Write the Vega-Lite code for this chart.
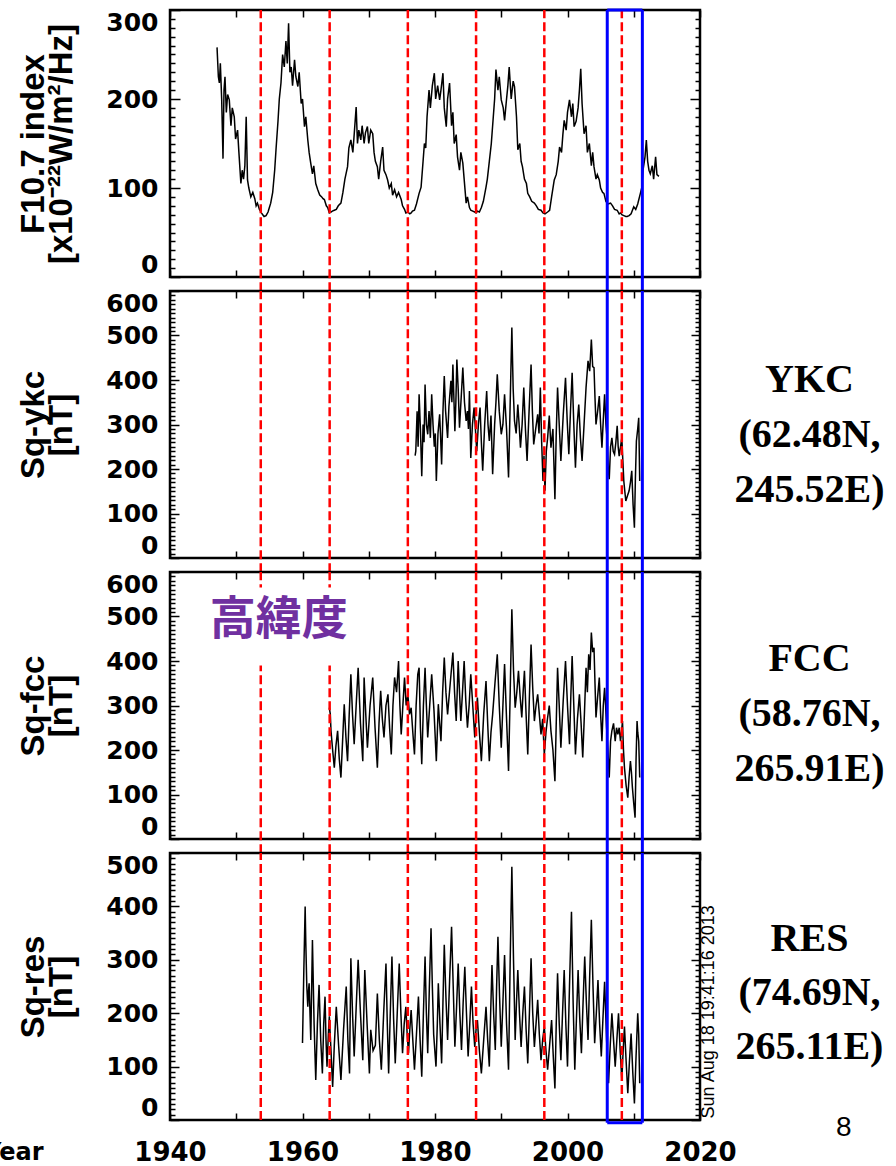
{
  "$schema": "https://vega.github.io/schema/vega-lite/v6.json",
  "background": "white",
  "padding": {"left": -18, "top": 5, "right": 0, "bottom": 0},
  "bounds": "flush",
  "spacing": 14,
  "config": {
    "view": {"stroke": "black", "strokeWidth": 2.5},
    "font": "Liberation Sans",
    "axis": {
      "domain": false, "grid": false, "tickColor": "black", "tickWidth": 1.5,
      "labelColor": "black", "titleColor": "black", "labelFontWeight": "bold", "titleFontWeight": "bold",
      "labelFont": "DejaVu Sans", "titleFont": "Liberation Sans", "labelFontSize": 25, "titleFontSize": 33
    }
  },
  "datasets": {
    "minima": [{"t": 1953.7}, {"t": 1964.1}, {"t": 1975.9}, {"t": 1986.2}, {"t": 1996.5}, {"t": 2008.2}],
    "box": [{"t": 2006.0}, {"t": 2011.3}],
    "f107": [
      {"t":1947.1,"v":258},{"t":1947.3,"v":225},{"t":1947.45,"v":218},{"t":1947.6,"v":240},{"t":1947.8,"v":200},{"t":1948.0,"v":133},{"t":1948.15,"v":210},{"t":1948.3,"v":225},{"t":1948.5,"v":185},{"t":1948.7,"v":205},{"t":1948.95,"v":199},{"t":1949.2,"v":170},{"t":1949.4,"v":190},{"t":1949.7,"v":180},{"t":1949.9,"v":155},{"t":1950.2,"v":165},{"t":1950.4,"v":140},{"t":1950.7,"v":105},{"t":1950.9,"v":120},{"t":1951.1,"v":110},{"t":1951.3,"v":125},{"t":1951.5,"v":180},{"t":1951.7,"v":109},{"t":1951.9,"v":100},{"t":1952.2,"v":90},{"t":1952.5,"v":95},{"t":1952.8,"v":88},{"t":1953.0,"v":80},{"t":1953.2,"v":83},{"t":1953.5,"v":76},{"t":1953.8,"v":72},{"t":1954.0,"v":70},{"t":1954.2,"v":68},{"t":1954.5,"v":69},{"t":1954.8,"v":73},{"t":1955.0,"v":78},{"t":1955.2,"v":83},{"t":1955.5,"v":95},{"t":1955.8,"v":120},{"t":1956.0,"v":143},{"t":1956.3,"v":175},{"t":1956.5,"v":200},{"t":1956.75,"v":218},{"t":1957.0,"v":250},{"t":1957.25,"v":236},{"t":1957.5,"v":265},{"t":1957.7,"v":240},{"t":1957.9,"v":285},{"t":1958.1,"v":230},{"t":1958.3,"v":236},{"t":1958.5,"v":215},{"t":1958.8,"v":244},{"t":1959.0,"v":225},{"t":1959.3,"v":214},{"t":1959.5,"v":230},{"t":1959.8,"v":195},{"t":1960.0,"v":200},{"t":1960.3,"v":169},{"t":1960.5,"v":180},{"t":1960.8,"v":154},{"t":1961.0,"v":140},{"t":1961.2,"v":130},{"t":1961.5,"v":116},{"t":1961.7,"v":125},{"t":1962.0,"v":105},{"t":1962.3,"v":98},{"t":1962.6,"v":92},{"t":1962.9,"v":90},{"t":1963.1,"v":88},{"t":1963.3,"v":87},{"t":1963.6,"v":80},{"t":1963.8,"v":78},{"t":1964.05,"v":72},{"t":1964.3,"v":73},{"t":1964.5,"v":74},{"t":1964.8,"v":75},{"t":1965.1,"v":76},{"t":1965.4,"v":80},{"t":1965.8,"v":83},{"t":1966.1,"v":95},{"t":1966.4,"v":110},{"t":1966.8,"v":124},{"t":1967.0,"v":145},{"t":1967.3,"v":154},{"t":1967.6,"v":140},{"t":1967.8,"v":160},{"t":1968.1,"v":191},{"t":1968.3,"v":150},{"t":1968.5,"v":165},{"t":1968.8,"v":154},{"t":1969.0,"v":170},{"t":1969.3,"v":150},{"t":1969.5,"v":162},{"t":1969.8,"v":169},{"t":1970.0,"v":150},{"t":1970.3,"v":165},{"t":1970.6,"v":161},{"t":1970.8,"v":140},{"t":1971.0,"v":130},{"t":1971.3,"v":124},{"t":1971.5,"v":110},{"t":1971.8,"v":130},{"t":1972.1,"v":146},{"t":1972.3,"v":120},{"t":1972.6,"v":115},{"t":1972.85,"v":109},{"t":1973.1,"v":100},{"t":1973.4,"v":105},{"t":1973.6,"v":92},{"t":1973.9,"v":98},{"t":1974.2,"v":90},{"t":1974.5,"v":95},{"t":1974.9,"v":87},{"t":1975.1,"v":80},{"t":1975.4,"v":76},{"t":1975.6,"v":72},{"t":1975.9,"v":73},{"t":1976.2,"v":71},{"t":1976.4,"v":72},{"t":1976.6,"v":74},{"t":1976.9,"v":75},{"t":1977.2,"v":82},{"t":1977.6,"v":94},{"t":1977.9,"v":101},{"t":1978.2,"v":130},{"t":1978.4,"v":150},{"t":1978.6,"v":145},{"t":1978.8,"v":180},{"t":1979.1,"v":210},{"t":1979.3,"v":190},{"t":1979.6,"v":215},{"t":1979.9,"v":229},{"t":1980.1,"v":200},{"t":1980.4,"v":215},{"t":1980.7,"v":199},{"t":1980.9,"v":210},{"t":1981.2,"v":229},{"t":1981.4,"v":190},{"t":1981.7,"v":169},{"t":1981.9,"v":200},{"t":1982.2,"v":218},{"t":1982.5,"v":170},{"t":1982.7,"v":185},{"t":1982.9,"v":150},{"t":1983.2,"v":160},{"t":1983.4,"v":135},{"t":1983.7,"v":120},{"t":1983.9,"v":140},{"t":1984.2,"v":128},{"t":1984.4,"v":110},{"t":1984.7,"v":83},{"t":1984.9,"v":90},{"t":1985.2,"v":78},{"t":1985.4,"v":75},{"t":1985.7,"v":74},{"t":1986.0,"v":73},{"t":1986.2,"v":72},{"t":1986.4,"v":74},{"t":1986.7,"v":73},{"t":1987.0,"v":78},{"t":1987.3,"v":85},{"t":1987.7,"v":101},{"t":1987.9,"v":110},{"t":1988.2,"v":130},{"t":1988.5,"v":150},{"t":1988.8,"v":180},{"t":1989.0,"v":200},{"t":1989.2,"v":233},{"t":1989.5,"v":210},{"t":1989.7,"v":225},{"t":1990.0,"v":199},{"t":1990.3,"v":190},{"t":1990.5,"v":176},{"t":1990.8,"v":200},{"t":1991.0,"v":215},{"t":1991.2,"v":236},{"t":1991.5,"v":200},{"t":1991.8,"v":220},{"t":1992.0,"v":214},{"t":1992.3,"v":180},{"t":1992.5,"v":143},{"t":1992.8,"v":150},{"t":1993.0,"v":130},{"t":1993.2,"v":124},{"t":1993.5,"v":110},{"t":1993.8,"v":105},{"t":1994.0,"v":94},{"t":1994.3,"v":90},{"t":1994.6,"v":85},{"t":1995.0,"v":83},{"t":1995.3,"v":80},{"t":1995.6,"v":76},{"t":1996.0,"v":75},{"t":1996.3,"v":72},{"t":1996.6,"v":71},{"t":1997.0,"v":73},{"t":1997.3,"v":75},{"t":1997.6,"v":90},{"t":1998.0,"v":109},{"t":1998.3,"v":115},{"t":1998.6,"v":130},{"t":1998.8,"v":146},{"t":1999.1,"v":140},{"t":1999.3,"v":160},{"t":1999.5,"v":176},{"t":1999.8,"v":165},{"t":2000.0,"v":185},{"t":2000.3,"v":199},{"t":2000.6,"v":180},{"t":2000.8,"v":195},{"t":2001.0,"v":169},{"t":2001.3,"v":175},{"t":2001.6,"v":190},{"t":2001.8,"v":210},{"t":2002.0,"v":234},{"t":2002.2,"v":195},{"t":2002.5,"v":161},{"t":2002.8,"v":170},{"t":2003.0,"v":140},{"t":2003.3,"v":150},{"t":2003.6,"v":125},{"t":2003.8,"v":140},{"t":2004.0,"v":124},{"t":2004.3,"v":110},{"t":2004.5,"v":115},{"t":2004.8,"v":109},{"t":2005.0,"v":100},{"t":2005.3,"v":95},{"t":2005.5,"v":94},{"t":2005.8,"v":85},{"t":2006.1,"v":82},{"t":2006.5,"v":83},{"t":2006.8,"v":80},{"t":2007.1,"v":76},{"t":2007.5,"v":75},{"t":2007.8,"v":71},{"t":2008.0,"v":72},{"t":2008.2,"v":70},{"t":2008.5,"v":69},{"t":2008.8,"v":68},{"t":2009.0,"v":68},{"t":2009.3,"v":69},{"t":2009.6,"v":71},{"t":2010.0,"v":79},{"t":2010.3,"v":76},{"t":2010.6,"v":82},{"t":2011.0,"v":94},{"t":2011.2,"v":100},{"t":2011.4,"v":120},{"t":2011.7,"v":135},{"t":2011.9,"v":154},{"t":2012.1,"v":130},{"t":2012.3,"v":120},{"t":2012.5,"v":116},{"t":2012.8,"v":125},{"t":2013.0,"v":110},{"t":2013.3,"v":135},{"t":2013.5,"v":115},{"t":2013.8,"v":113}
    ],
    "ykc": [
      {"t":1977.0,"v":230},{"t":1977.1,"v":240},{"t":1977.3,"v":330},{"t":1977.45,"v":250},{"t":1977.6,"v":368},{"t":1977.8,"v":290},{"t":1978.0,"v":184},{"t":1978.2,"v":300},{"t":1978.35,"v":260},{"t":1978.5,"v":390},{"t":1978.7,"v":300},{"t":1978.9,"v":278},{"t":1979.1,"v":330},{"t":1979.3,"v":270},{"t":1979.5,"v":368},{"t":1979.7,"v":300},{"t":1979.9,"v":250},{"t":1980.05,"v":280},{"t":1980.2,"v":173},{"t":1980.45,"v":280},{"t":1980.7,"v":323},{"t":1980.85,"v":270},{"t":1981.0,"v":210},{"t":1981.2,"v":330},{"t":1981.4,"v":409},{"t":1981.6,"v":330},{"t":1981.9,"v":270},{"t":1982.1,"v":340},{"t":1982.4,"v":398},{"t":1982.55,"v":350},{"t":1982.7,"v":435},{"t":1982.85,"v":360},{"t":1983.0,"v":285},{"t":1983.15,"v":350},{"t":1983.3,"v":446},{"t":1983.5,"v":380},{"t":1983.7,"v":293},{"t":1983.95,"v":360},{"t":1984.2,"v":428},{"t":1984.45,"v":350},{"t":1984.7,"v":308},{"t":1984.9,"v":330},{"t":1985.05,"v":290},{"t":1985.2,"v":375},{"t":1985.4,"v":225},{"t":1985.65,"v":300},{"t":1985.9,"v":338},{"t":1986.1,"v":290},{"t":1986.3,"v":240},{"t":1986.55,"v":300},{"t":1986.8,"v":338},{"t":1987.0,"v":260},{"t":1987.2,"v":196},{"t":1987.5,"v":300},{"t":1987.8,"v":375},{"t":1988.0,"v":300},{"t":1988.2,"v":263},{"t":1988.45,"v":320},{"t":1988.7,"v":188},{"t":1989.0,"v":300},{"t":1989.2,"v":350},{"t":1989.4,"v":413},{"t":1989.7,"v":330},{"t":1990.0,"v":278},{"t":1990.25,"v":300},{"t":1990.5,"v":368},{"t":1990.8,"v":290},{"t":1991.1,"v":181},{"t":1991.35,"v":350},{"t":1991.6,"v":518},{"t":1991.8,"v":380},{"t":1992.0,"v":308},{"t":1992.25,"v":280},{"t":1992.5,"v":345},{"t":1992.7,"v":300},{"t":1992.9,"v":248},{"t":1993.15,"v":300},{"t":1993.4,"v":383},{"t":1993.65,"v":290},{"t":1993.9,"v":218},{"t":1994.2,"v":330},{"t":1994.5,"v":435},{"t":1994.7,"v":330},{"t":1994.9,"v":255},{"t":1995.2,"v":290},{"t":1995.5,"v":323},{"t":1995.7,"v":280},{"t":1995.9,"v":383},{"t":1996.1,"v":260},{"t":1996.3,"v":173},{"t":1996.45,"v":230},{"t":1996.6,"v":151},{"t":1996.8,"v":240},{"t":1997.0,"v":270},{"t":1997.25,"v":320},{"t":1997.5,"v":248},{"t":1997.8,"v":290},{"t":1998.1,"v":132},{"t":1998.3,"v":280},{"t":1998.5,"v":383},{"t":1998.75,"v":300},{"t":1999.0,"v":218},{"t":1999.35,"v":320},{"t":1999.7,"v":405},{"t":1999.95,"v":310},{"t":2000.2,"v":233},{"t":2000.45,"v":330},{"t":2000.7,"v":416},{"t":2000.95,"v":300},{"t":2001.2,"v":203},{"t":2001.45,"v":300},{"t":2001.7,"v":345},{"t":2001.95,"v":270},{"t":2002.2,"v":218},{"t":2002.5,"v":300},{"t":2002.8,"v":383},{"t":2003.1,"v":443},{"t":2003.35,"v":420},{"t":2003.6,"v":491},{"t":2003.8,"v":430},{"t":2004.0,"v":428},{"t":2004.15,"v":360},{"t":2004.3,"v":300},{"t":2004.55,"v":330},{"t":2004.8,"v":364},{"t":2005.0,"v":300},{"t":2005.2,"v":248},{"t":2005.4,"v":310},{"t":2005.6,"v":368},{"t":2005.8,"v":300},{"t":2006.0,"v":263},{"t":2006.15,"v":200},{"t":2006.3,"v":177},{"t":2006.5,"v":250},{"t":2006.7,"v":270},{"t":2006.9,"v":240},{"t":2007.1,"v":233},{"t":2007.3,"v":260},{"t":2007.5,"v":297},{"t":2007.65,"v":250},{"t":2007.8,"v":229},{"t":2008.0,"v":250},{"t":2008.2,"v":270},{"t":2008.35,"v":220},{"t":2008.5,"v":173},{"t":2008.65,"v":150},{"t":2008.8,"v":128},{"t":2009.05,"v":140},{"t":2009.3,"v":151},{"t":2009.5,"v":170},{"t":2009.7,"v":196},{"t":2009.9,"v":120},{"t":2010.1,"v":68},{"t":2010.25,"v":180},{"t":2010.4,"v":263},{"t":2010.6,"v":290},{"t":2010.75,"v":315},{"t":2010.9,"v":173}
    ],
    "fcc": [
      {"t":1964.05,"v":295},{"t":1964.2,"v":280},{"t":1964.3,"v":243},{"t":1964.55,"v":200},{"t":1964.8,"v":160},{"t":1965.05,"v":210},{"t":1965.3,"v":243},{"t":1965.55,"v":180},{"t":1965.8,"v":138},{"t":1966.05,"v":220},{"t":1966.3,"v":303},{"t":1966.55,"v":230},{"t":1966.8,"v":175},{"t":1967.05,"v":280},{"t":1967.3,"v":370},{"t":1967.55,"v":280},{"t":1967.8,"v":213},{"t":1968.1,"v":300},{"t":1968.4,"v":385},{"t":1968.75,"v":260},{"t":1969.1,"v":175},{"t":1969.3,"v":363},{"t":1969.55,"v":280},{"t":1969.8,"v":205},{"t":1970.2,"v":300},{"t":1970.6,"v":363},{"t":1970.95,"v":250},{"t":1971.3,"v":160},{"t":1971.55,"v":260},{"t":1971.8,"v":333},{"t":1972.05,"v":270},{"t":1972.3,"v":228},{"t":1972.6,"v":300},{"t":1972.9,"v":325},{"t":1973.15,"v":250},{"t":1973.4,"v":190},{"t":1973.65,"v":300},{"t":1973.9,"v":363},{"t":1974.2,"v":330},{"t":1974.5,"v":400},{"t":1974.7,"v":300},{"t":1974.9,"v":235},{"t":1975.15,"v":300},{"t":1975.4,"v":363},{"t":1975.65,"v":300},{"t":1975.9,"v":325},{"t":1976.15,"v":280},{"t":1976.4,"v":295},{"t":1976.65,"v":240},{"t":1976.9,"v":190},{"t":1977.15,"v":300},{"t":1977.4,"v":370},{"t":1977.6,"v":385},{"t":1977.8,"v":250},{"t":1978.0,"v":168},{"t":1978.25,"v":300},{"t":1978.5,"v":385},{"t":1978.7,"v":300},{"t":1978.9,"v":228},{"t":1979.2,"v":300},{"t":1979.5,"v":370},{"t":1979.85,"v":288},{"t":1980.2,"v":175},{"t":1980.5,"v":303},{"t":1980.7,"v":260},{"t":1980.9,"v":220},{"t":1981.15,"v":330},{"t":1981.4,"v":408},{"t":1981.65,"v":330},{"t":1981.9,"v":280},{"t":1982.3,"v":350},{"t":1982.7,"v":419},{"t":1982.95,"v":330},{"t":1983.2,"v":265},{"t":1983.35,"v":330},{"t":1983.5,"v":400},{"t":1983.7,"v":330},{"t":1983.9,"v":265},{"t":1984.15,"v":330},{"t":1984.4,"v":400},{"t":1984.65,"v":310},{"t":1984.9,"v":250},{"t":1985.15,"v":300},{"t":1985.4,"v":370},{"t":1985.7,"v":300},{"t":1986.0,"v":228},{"t":1986.2,"v":280},{"t":1986.4,"v":318},{"t":1986.7,"v":240},{"t":1987.0,"v":175},{"t":1987.35,"v":280},{"t":1987.7,"v":355},{"t":1987.95,"v":260},{"t":1988.2,"v":175},{"t":1988.45,"v":240},{"t":1988.7,"v":280},{"t":1989.05,"v":350},{"t":1989.4,"v":415},{"t":1989.7,"v":300},{"t":1990.0,"v":205},{"t":1990.25,"v":300},{"t":1990.5,"v":393},{"t":1990.8,"v":270},{"t":1991.1,"v":153},{"t":1991.35,"v":330},{"t":1991.6,"v":516},{"t":1991.85,"v":380},{"t":1992.1,"v":295},{"t":1992.35,"v":330},{"t":1992.6,"v":378},{"t":1992.85,"v":320},{"t":1993.1,"v":273},{"t":1993.3,"v":330},{"t":1993.5,"v":378},{"t":1993.75,"v":280},{"t":1994.0,"v":190},{"t":1994.25,"v":320},{"t":1994.5,"v":437},{"t":1994.75,"v":340},{"t":1995.0,"v":265},{"t":1995.25,"v":300},{"t":1995.5,"v":325},{"t":1995.75,"v":280},{"t":1996.0,"v":235},{"t":1996.25,"v":270},{"t":1996.5,"v":190},{"t":1996.75,"v":240},{"t":1997.0,"v":273},{"t":1997.25,"v":300},{"t":1997.5,"v":243},{"t":1997.8,"v":200},{"t":1998.1,"v":130},{"t":1998.3,"v":260},{"t":1998.5,"v":385},{"t":1998.75,"v":300},{"t":1999.0,"v":205},{"t":1999.35,"v":310},{"t":1999.7,"v":400},{"t":2000.0,"v":300},{"t":2000.3,"v":213},{"t":2000.5,"v":320},{"t":2000.7,"v":411},{"t":2000.95,"v":300},{"t":2001.2,"v":190},{"t":2001.5,"v":270},{"t":2001.8,"v":325},{"t":2002.05,"v":260},{"t":2002.3,"v":183},{"t":2002.55,"v":280},{"t":2002.8,"v":385},{"t":2003.0,"v":330},{"t":2003.2,"v":415},{"t":2003.4,"v":380},{"t":2003.6,"v":464},{"t":2003.8,"v":420},{"t":2004.0,"v":430},{"t":2004.15,"v":350},{"t":2004.3,"v":273},{"t":2004.55,"v":320},{"t":2004.8,"v":363},{"t":2005.0,"v":280},{"t":2005.2,"v":220},{"t":2005.4,"v":300},{"t":2005.6,"v":340},{"t":2005.75,"v":300},{"t":2005.9,"v":250},{"t":2006.1,"v":200},{"t":2006.3,"v":138},{"t":2006.5,"v":220},{"t":2006.7,"v":243},{"t":2006.95,"v":260},{"t":2007.2,"v":220},{"t":2007.4,"v":250},{"t":2007.6,"v":235},{"t":2007.8,"v":250},{"t":2008.0,"v":220},{"t":2008.15,"v":240},{"t":2008.3,"v":265},{"t":2008.45,"v":200},{"t":2008.6,"v":160},{"t":2008.85,"v":120},{"t":2009.1,"v":93},{"t":2009.3,"v":140},{"t":2009.5,"v":175},{"t":2009.65,"v":150},{"t":2009.8,"v":115},{"t":2010.0,"v":80},{"t":2010.2,"v":48},{"t":2010.35,"v":180},{"t":2010.5,"v":265},{"t":2010.6,"v":240},{"t":2010.75,"v":220},{"t":2010.9,"v":138}
    ],
    "res": [
      {"t":1960.0,"v":144},{"t":1960.2,"v":280},{"t":1960.4,"v":400},{"t":1960.5,"v":331},{"t":1960.65,"v":250},{"t":1960.8,"v":212},{"t":1960.9,"v":240},{"t":1961.0,"v":256},{"t":1961.25,"v":150},{"t":1961.5,"v":337},{"t":1961.75,"v":180},{"t":1962.0,"v":75},{"t":1962.25,"v":180},{"t":1962.5,"v":253},{"t":1962.75,"v":150},{"t":1963.0,"v":87},{"t":1963.2,"v":180},{"t":1963.4,"v":231},{"t":1963.55,"v":150},{"t":1963.7,"v":100},{"t":1963.9,"v":160},{"t":1964.05,"v":194},{"t":1964.3,"v":130},{"t":1964.55,"v":62},{"t":1964.8,"v":140},{"t":1965.1,"v":212},{"t":1965.45,"v":140},{"t":1965.8,"v":75},{"t":1966.2,"v":170},{"t":1966.6,"v":250},{"t":1966.85,"v":150},{"t":1967.1,"v":87},{"t":1967.3,"v":303},{"t":1967.55,"v":200},{"t":1967.8,"v":119},{"t":1968.1,"v":210},{"t":1968.4,"v":300},{"t":1968.75,"v":200},{"t":1969.1,"v":112},{"t":1969.4,"v":281},{"t":1969.75,"v":180},{"t":1970.1,"v":87},{"t":1970.3,"v":169},{"t":1970.65,"v":130},{"t":1971.0,"v":140},{"t":1971.3,"v":237},{"t":1971.6,"v":150},{"t":1971.9,"v":94},{"t":1972.25,"v":200},{"t":1972.6,"v":293},{"t":1972.8,"v":180},{"t":1973.0,"v":87},{"t":1973.25,"v":200},{"t":1973.5,"v":306},{"t":1973.75,"v":190},{"t":1974.0,"v":106},{"t":1974.3,"v":200},{"t":1974.6,"v":293},{"t":1974.85,"v":200},{"t":1975.1,"v":125},{"t":1975.35,"v":180},{"t":1975.6,"v":212},{"t":1975.8,"v":160},{"t":1976.0,"v":125},{"t":1976.2,"v":170},{"t":1976.4,"v":206},{"t":1976.65,"v":150},{"t":1976.9,"v":94},{"t":1977.2,"v":160},{"t":1977.5,"v":231},{"t":1977.75,"v":150},{"t":1978.0,"v":81},{"t":1978.25,"v":200},{"t":1978.5,"v":306},{"t":1978.7,"v":200},{"t":1978.9,"v":125},{"t":1979.15,"v":250},{"t":1979.4,"v":359},{"t":1979.6,"v":250},{"t":1979.8,"v":160},{"t":1980.15,"v":100},{"t":1980.35,"v":180},{"t":1980.5,"v":256},{"t":1980.75,"v":180},{"t":1981.0,"v":106},{"t":1981.2,"v":220},{"t":1981.4,"v":328},{"t":1981.65,"v":230},{"t":1981.9,"v":150},{"t":1982.2,"v":260},{"t":1982.5,"v":362},{"t":1982.75,"v":250},{"t":1983.0,"v":137},{"t":1983.25,"v":210},{"t":1983.5,"v":293},{"t":1983.75,"v":200},{"t":1984.0,"v":131},{"t":1984.25,"v":220},{"t":1984.5,"v":287},{"t":1984.75,"v":200},{"t":1985.0,"v":119},{"t":1985.25,"v":180},{"t":1985.5,"v":250},{"t":1985.75,"v":180},{"t":1986.0,"v":137},{"t":1986.2,"v":170},{"t":1986.4,"v":187},{"t":1986.7,"v":130},{"t":1987.0,"v":87},{"t":1987.35,"v":150},{"t":1987.7,"v":212},{"t":1987.95,"v":150},{"t":1988.2,"v":100},{"t":1988.4,"v":200},{"t":1988.6,"v":290},{"t":1988.85,"v":200},{"t":1989.1,"v":131},{"t":1989.3,"v":250},{"t":1989.5,"v":343},{"t":1989.75,"v":230},{"t":1990.0,"v":137},{"t":1990.25,"v":220},{"t":1990.5,"v":309},{"t":1990.8,"v":180},{"t":1991.1,"v":94},{"t":1991.35,"v":300},{"t":1991.6,"v":474},{"t":1991.85,"v":300},{"t":1992.1,"v":150},{"t":1992.3,"v":220},{"t":1992.5,"v":281},{"t":1992.75,"v":200},{"t":1993.0,"v":137},{"t":1993.25,"v":200},{"t":1993.5,"v":250},{"t":1993.75,"v":170},{"t":1994.0,"v":106},{"t":1994.25,"v":200},{"t":1994.5,"v":303},{"t":1994.75,"v":200},{"t":1995.0,"v":137},{"t":1995.25,"v":180},{"t":1995.5,"v":225},{"t":1995.75,"v":160},{"t":1996.0,"v":112},{"t":1996.25,"v":150},{"t":1996.5,"v":175},{"t":1996.75,"v":130},{"t":1997.0,"v":94},{"t":1997.3,"v":140},{"t":1997.6,"v":187},{"t":1997.85,"v":120},{"t":1998.1,"v":59},{"t":1998.3,"v":180},{"t":1998.5,"v":275},{"t":1998.75,"v":180},{"t":1999.0,"v":112},{"t":1999.25,"v":200},{"t":1999.5,"v":281},{"t":1999.75,"v":180},{"t":2000.0,"v":100},{"t":2000.3,"v":250},{"t":2000.6,"v":390},{"t":2000.85,"v":220},{"t":2001.1,"v":94},{"t":2001.35,"v":190},{"t":2001.6,"v":281},{"t":2001.85,"v":190},{"t":2002.1,"v":125},{"t":2002.35,"v":220},{"t":2002.6,"v":306},{"t":2002.85,"v":220},{"t":2003.1,"v":150},{"t":2003.35,"v":270},{"t":2003.6,"v":375},{"t":2003.85,"v":250},{"t":2004.1,"v":144},{"t":2004.35,"v":200},{"t":2004.6,"v":262},{"t":2004.85,"v":180},{"t":2005.1,"v":119},{"t":2005.35,"v":190},{"t":2005.6,"v":259},{"t":2005.9,"v":150},{"t":2006.2,"v":69},{"t":2006.45,"v":140},{"t":2006.7,"v":200},{"t":2006.95,"v":150},{"t":2007.2,"v":100},{"t":2007.45,"v":150},{"t":2007.7,"v":200},{"t":2007.95,"v":130},{"t":2008.2,"v":75},{"t":2008.4,"v":130},{"t":2008.6,"v":175},{"t":2008.85,"v":110},{"t":2009.1,"v":50},{"t":2009.35,"v":110},{"t":2009.6,"v":162},{"t":2009.85,"v":90},{"t":2010.1,"v":31},{"t":2010.35,"v":120},{"t":2010.6,"v":200},{"t":2010.75,"v":160},{"t":2010.9,"v":69}
    ]
  },
  "vconcat": [
    {
      "width": 530, "height": 267,
      "resolve": {"axis": {"x": "independent", "y": "independent"}},
      "layer": [
        {
          "data": {"name": "f107"},
          "mark": {"type": "line", "color": "black", "strokeWidth": 1.5},
          "encoding": {
            "x": {"field": "t", "type": "quantitative", "scale": {"domain": [1940, 2020], "nice": false, "zero": false},
                  "axis": {"orient": "bottom", "values": [1940,1950,1960,1970,1980,1990,2000,2010,2020], "tickSize": -7, "labels": false, "title": null}},
            "y": {"field": "v", "type": "quantitative", "scale": {"domain": [0, 300], "nice": false, "zero": false},
                  "axis": {"orient": "left", "tickCount": 30, "tickSize": {"condition": {"test": "datum.value % 100 === 0", "value": -10}, "value": -5},
                           "labelExpr": "datum.value % 100 === 0 ? datum.label : ''", "labelFlush": true, "labelOverlap": false, "labelPadding": 22,
                           "title": ["F10.7 index", "[x10⁻²²W/m²/Hz]"], "titleLineHeight": 28, "titlePadding": 27}}
          }
        },
        {
          "data": {"name": "minima"},
          "mark": {"type": "rule", "color": "#ff0000", "strokeWidth": 2.5, "strokeDash": [9, 4]},
          "encoding": {
            "x": {"field": "t", "type": "quantitative", "scale": {"domain": [1940, 2020], "nice": false, "zero": false},
                  "axis": {"orient": "top", "values": [1940,1950,1960,1970,1980,1990,2000,2010,2020], "tickSize": -7, "labels": false, "title": null}},
            "y": {"datum": -16, "type": "quantitative", "scale": {"domain": [0, 300], "nice": false, "zero": false},
                  "axis": {"orient": "right", "tickCount": 30, "tickSize": {"condition": {"test": "datum.value % 100 === 0", "value": -10}, "value": -5}, "labels": false, "title": null}},
            "y2": {"datum": 300}
          }
        },
        {
          "data": {"name": "box"},
          "mark": {"type": "rule", "color": "#0000ff", "strokeWidth": 3},
          "encoding": {
            "x": {"field": "t", "type": "quantitative", "scale": {"domain": [1940, 2020], "nice": false, "zero": false}, "axis": null},
            "y": {"datum": -16, "type": "quantitative", "scale": {"domain": [0, 300], "nice": false, "zero": false}, "axis": null},
            "y2": {"datum": 300}
          }
        },
        {
          "data": {"values": [{}]},
          "mark": {"type": "rule", "color": "#0000ff", "strokeWidth": 3},
          "encoding": {
            "x": {"datum": 2006.0, "type": "quantitative", "scale": {"domain": [1940, 2020], "nice": false, "zero": false}, "axis": null},
            "x2": {"datum": 2011.3},
            "y": {"datum": 300, "type": "quantitative", "scale": {"domain": [0, 300], "nice": false, "zero": false}, "axis": null}
          }
        }
      ]
    },
    {
      "width": 530, "height": 267,
      "resolve": {"axis": {"x": "independent", "y": "independent"}},
      "layer": [
        {
          "data": {"name": "ykc"},
          "mark": {"type": "line", "color": "black", "strokeWidth": 1.5},
          "encoding": {
            "x": {"field": "t", "type": "quantitative", "scale": {"domain": [1940, 2020], "nice": false, "zero": false},
                  "axis": {"orient": "bottom", "values": [1940,1950,1960,1970,1980,1990,2000,2010,2020], "tickSize": -7, "labels": false, "title": null}},
            "y": {"field": "v", "type": "quantitative", "scale": {"domain": [0, 600], "nice": false, "zero": false},
                  "axis": {"orient": "left", "tickCount": 60, "tickSize": {"condition": {"test": "datum.value % 100 === 0", "value": -9}, "value": -5},
                           "labelExpr": "datum.value % 100 === 0 ? datum.label : ''", "labelFlush": true, "labelOverlap": false, "labelPadding": 21,
                           "title": ["Sq-ykc", "[nT]"], "titleLineHeight": 28, "titlePadding": 27}}
          }
        },
        {
          "data": {"name": "minima"},
          "mark": {"type": "rule", "color": "#ff0000", "strokeWidth": 2.5, "strokeDash": [9, 4]},
          "encoding": {
            "x": {"field": "t", "type": "quantitative", "scale": {"domain": [1940, 2020], "nice": false, "zero": false},
                  "axis": {"orient": "top", "values": [1940,1950,1960,1970,1980,1990,2000,2010,2020], "tickSize": -7, "labels": false, "title": null}},
            "y": {"datum": -32, "type": "quantitative", "scale": {"domain": [0, 600], "nice": false, "zero": false},
                  "axis": {"orient": "right", "tickCount": 60, "tickSize": {"condition": {"test": "datum.value % 100 === 0", "value": -9}, "value": -5}, "labels": false,
                           "title": ["YKC", "(62.48N,", "245.52E)"], "titleAngle": 0, "titleX": 109, "titleY": 88, "titleAlign": "center", "titleBaseline": "middle",
                           "titleFont": "Liberation Serif", "titleFontSize": 40, "titleLineHeight": 55}},
            "y2": {"datum": 600}
          }
        },
        {
          "data": {"name": "box"},
          "mark": {"type": "rule", "color": "#0000ff", "strokeWidth": 3},
          "encoding": {
            "x": {"field": "t", "type": "quantitative", "scale": {"domain": [1940, 2020], "nice": false, "zero": false}, "axis": null},
            "y": {"datum": -32, "type": "quantitative", "scale": {"domain": [0, 600], "nice": false, "zero": false}, "axis": null},
            "y2": {"datum": 600}
          }
        }
      ]
    },
    {
      "width": 530, "height": 267,
      "resolve": {"axis": {"x": "independent", "y": "independent"}},
      "layer": [
        {
          "data": {"name": "fcc"},
          "mark": {"type": "line", "color": "black", "strokeWidth": 1.5},
          "encoding": {
            "x": {"field": "t", "type": "quantitative", "scale": {"domain": [1940, 2020], "nice": false, "zero": false},
                  "axis": {"orient": "bottom", "values": [1940,1950,1960,1970,1980,1990,2000,2010,2020], "tickSize": -7, "labels": false, "title": null}},
            "y": {"field": "v", "type": "quantitative", "scale": {"domain": [0, 600], "nice": false, "zero": false},
                  "axis": {"orient": "left", "tickCount": 60, "tickSize": {"condition": {"test": "datum.value % 100 === 0", "value": -9}, "value": -5},
                           "labelExpr": "datum.value % 100 === 0 ? datum.label : ''", "labelFlush": true, "labelOverlap": false, "labelPadding": 21,
                           "title": ["Sq-fcc", "[nT]"], "titleLineHeight": 28, "titlePadding": 27}}
          }
        },
        {
          "data": {"name": "minima"},
          "mark": {"type": "rule", "color": "#ff0000", "strokeWidth": 2.5, "strokeDash": [9, 4]},
          "encoding": {
            "x": {"field": "t", "type": "quantitative", "scale": {"domain": [1940, 2020], "nice": false, "zero": false},
                  "axis": {"orient": "top", "values": [1940,1950,1960,1970,1980,1990,2000,2010,2020], "tickSize": -7, "labels": false, "title": null}},
            "y": {"datum": -32, "type": "quantitative", "scale": {"domain": [0, 600], "nice": false, "zero": false},
                  "axis": {"orient": "right", "tickCount": 60, "tickSize": {"condition": {"test": "datum.value % 100 === 0", "value": -9}, "value": -5}, "labels": false,
                           "title": ["FCC", "(58.76N,", "265.91E)"], "titleAngle": 0, "titleX": 109, "titleY": 86, "titleAlign": "center", "titleBaseline": "middle",
                           "titleFont": "Liberation Serif", "titleFontSize": 40, "titleLineHeight": 55}},
            "y2": {"datum": 600}
          }
        },
        {
          "data": {"name": "box"},
          "mark": {"type": "rule", "color": "#0000ff", "strokeWidth": 3},
          "encoding": {
            "x": {"field": "t", "type": "quantitative", "scale": {"domain": [1940, 2020], "nice": false, "zero": false}, "axis": null},
            "y": {"datum": -32, "type": "quantitative", "scale": {"domain": [0, 600], "nice": false, "zero": false}, "axis": null},
            "y2": {"datum": 600}
          }
        },
        {
          "data": {"values": [{}]},
          "mark": {"type": "rect", "color": "white"},
          "encoding": {
            "x": {"datum": 1951.5, "type": "quantitative", "scale": {"domain": [1940, 2020], "nice": false, "zero": false}, "axis": null},
            "x2": {"datum": 1966},
            "y": {"datum": 390, "type": "quantitative", "scale": {"domain": [0, 600], "nice": false, "zero": false}, "axis": null},
            "y2": {"datum": 565}
          }
        },
        {
          "data": {"values": [{}]},
          "mark": {"type": "text", "text": "高緯度", "font": "Noto Sans CJK JP", "fontSize": 46, "fontWeight": "bold", "color": "#7030a0", "align": "center", "baseline": "middle"},
          "encoding": {
            "x": {"datum": 1956.4, "type": "quantitative", "scale": {"domain": [1940, 2020], "nice": false, "zero": false}, "axis": null},
            "y": {"datum": 492, "type": "quantitative", "scale": {"domain": [0, 600], "nice": false, "zero": false}, "axis": null}
          }
        }
      ]
    },
    {
      "width": 530, "height": 267,
      "resolve": {"axis": {"x": "independent", "y": "independent"}},
      "layer": [
        {
          "data": {"name": "res"},
          "mark": {"type": "line", "color": "black", "strokeWidth": 1.5},
          "encoding": {
            "x": {"field": "t", "type": "quantitative", "scale": {"domain": [1940, 2020], "nice": false, "zero": false},
                  "axis": {"orient": "bottom", "values": [1940,1950,1960,1970,1980,1990,2000,2010,2020], "tickSize": -7, "format": "d",
                           "labelExpr": "datum.value % 20 === 0 ? datum.label : ''", "labelPadding": 26, "labelOverlap": false, "labelFlush": false, "labelBaseline": "top", "labelFontSize": 26,
                           "title": "Year", "titleX": -127, "titleY": 32, "titleAlign": "right", "titleBaseline": "middle", "titleFont": "DejaVu Sans", "titleFontSize": 24}},
            "y": {"field": "v", "type": "quantitative", "scale": {"domain": [0, 500], "nice": false, "zero": false},
                  "axis": {"orient": "left", "tickCount": 50, "tickSize": {"condition": {"test": "datum.value % 100 === 0", "value": -9}, "value": -5},
                           "labelExpr": "datum.value % 100 === 0 ? datum.label : ''", "labelFlush": true, "labelOverlap": false, "labelPadding": 21,
                           "title": ["Sq-res", "[nT]"], "titleLineHeight": 28, "titlePadding": 27}}
          }
        },
        {
          "data": {"name": "minima"},
          "mark": {"type": "rule", "color": "#ff0000", "strokeWidth": 2.5, "strokeDash": [9, 4]},
          "encoding": {
            "x": {"field": "t", "type": "quantitative", "scale": {"domain": [1940, 2020], "nice": false, "zero": false},
                  "axis": {"orient": "top", "values": [1940,1950,1960,1970,1980,1990,2000,2010,2020], "tickSize": -7, "labels": false, "title": null}},
            "y": {"datum": 0, "type": "quantitative", "scale": {"domain": [0, 500], "nice": false, "zero": false},
                  "axis": {"orient": "right", "tickCount": 50, "tickSize": {"condition": {"test": "datum.value % 100 === 0", "value": -9}, "value": -5}, "labels": false,
                           "title": ["RES", "(74.69N,", "265.11E)"], "titleAngle": 0, "titleX": 109, "titleY": 85, "titleAlign": "center", "titleBaseline": "middle",
                           "titleFont": "Liberation Serif", "titleFontSize": 40, "titleLineHeight": 54}},
            "y2": {"datum": 500}
          }
        },
        {
          "data": {"name": "box"},
          "mark": {"type": "rule", "color": "#0000ff", "strokeWidth": 3},
          "encoding": {
            "x": {"field": "t", "type": "quantitative", "scale": {"domain": [1940, 2020], "nice": false, "zero": false}, "axis": null},
            "y": {"datum": -5, "type": "quantitative", "scale": {"domain": [0, 500], "nice": false, "zero": false}, "axis": null},
            "y2": {"datum": 500}
          }
        },
        {
          "data": {"values": [{}]},
          "mark": {"type": "rule", "color": "#0000ff", "strokeWidth": 3},
          "encoding": {
            "x": {"datum": 2006.0, "type": "quantitative", "scale": {"domain": [1940, 2020], "nice": false, "zero": false}, "axis": null},
            "x2": {"datum": 2011.3},
            "y": {"datum": -5, "type": "quantitative", "scale": {"domain": [0, 500], "nice": false, "zero": false}, "axis": null}
          }
        },
        {
          "data": {"values": [{}]},
          "mark": {"type": "text", "text": "Sun Aug 18 19:41:16 2013", "font": "Liberation Sans", "fontSize": 18, "angle": 270, "align": "left", "baseline": "middle", "color": "black"},
          "encoding": {
            "x": {"datum": 2021.3, "type": "quantitative", "scale": {"domain": [1940, 2020], "nice": false, "zero": false}, "axis": null},
            "y": {"datum": 3, "type": "quantitative", "scale": {"domain": [0, 500], "nice": false, "zero": false}, "axis": null}
          }
        },
        {
          "data": {"values": [{}]},
          "mark": {"type": "text", "text": "8", "font": "Liberation Sans", "fontSize": 28, "align": "center", "baseline": "middle", "color": "black"},
          "encoding": {
            "x": {"datum": 2041.7, "type": "quantitative", "scale": {"domain": [1940, 2020], "nice": false, "zero": false}, "axis": null},
            "y": {"datum": -15, "type": "quantitative", "scale": {"domain": [0, 500], "nice": false, "zero": false}, "axis": null}
          }
        }
      ]
    }
  ]
}
